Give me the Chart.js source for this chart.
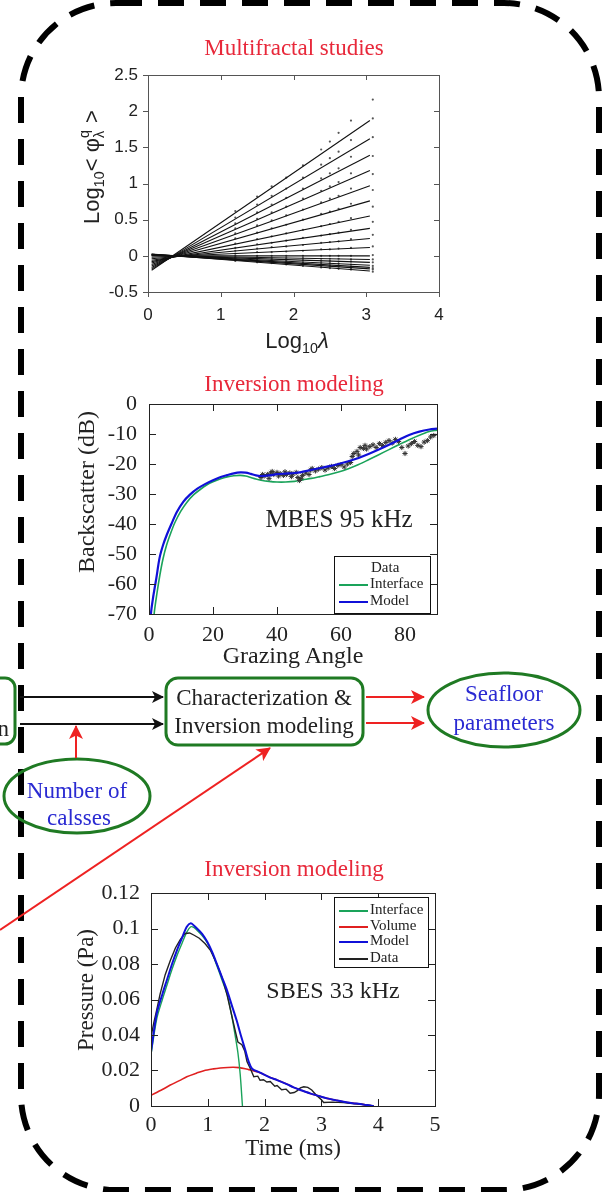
<!DOCTYPE html>
<html>
<head>
<meta charset="utf-8">
<script src="https://cdn.jsdelivr.net/npm/chart.js@4.4.1/dist/chart.umd.min.js"></script>
<style>
  html, body { margin: 0; padding: 0; background: #fff; }
  #page { position: relative; width: 604px; height: 1192px; overflow: hidden; }
  canvas.plot { position: absolute; left: 0; }
  .txt { position: absolute; white-space: nowrap; transform: translate(-50%, -50%); line-height: 1; color: #222; }
  .rot { transform: translate(-50%, -50%) rotate(-90deg); }
  .serif { font-family: "Liberation Serif", "Times New Roman", serif; }
  .sans { font-family: "Liberation Sans", Arial, sans-serif; }
  .red { color: #e8283a; }
  .legend { position: absolute; border: 1.5px solid #111; background: #fff; font-family: "Liberation Serif", serif; font-size: 15px; color: #222; }
  .legend div { position: absolute; left: 4px; height: 16px; line-height: 16px; white-space: nowrap; }
  .legend span { display: inline-block; width: 29px; height: 0; border-top: 2px solid transparent; vertical-align: middle; margin-right: 2px; }
  svg { position: absolute; left: 0; top: 0; }
  sub, sup { font-size: 65%; line-height: 0; }
</style>
</head>
<body>
<div id="page">
  <canvas class="plot" id="mfChart" width="604" height="350" style="top:0"></canvas>
  <canvas class="plot" id="mbesChart" width="604" height="320" style="top:360px"></canvas>
  <canvas class="plot" id="sbesChart" width="604" height="320" style="top:840px"></canvas>

  <svg width="604" height="1192" viewBox="0 0 604 1192">
    <defs>
      <marker id="headK" markerUnits="userSpaceOnUse" markerWidth="12" markerHeight="12" refX="11" refY="6" orient="auto">
        <path d="M0,0 L12,6 L0,12 L3,6 z" fill="#111"/>
      </marker>
      <marker id="headR" markerUnits="userSpaceOnUse" markerWidth="14" markerHeight="14" refX="13" refY="7" orient="auto">
        <path d="M0,0 L14,7 L0,14 L3.5,7 z" fill="#ee2222"/>
      </marker>
    </defs>
    <rect x="21" y="3" width="578" height="1187" rx="95" ry="95" fill="none" stroke="#000" stroke-width="6" stroke-dasharray="26 16"/>

    <g fill="none" stroke="#1f7a23" stroke-width="3">
      <rect x="-60" y="678" width="75" height="66" rx="10"/>
      <rect x="166" y="678" width="197" height="67" rx="12"/>
      <ellipse cx="77" cy="796" rx="73" ry="37"/>
      <ellipse cx="504" cy="710" rx="76" ry="37"/>
    </g>
    <g stroke="#111" stroke-width="2">
      <line x1="20" y1="697" x2="163" y2="697" marker-end="url(#headK)"/>
      <line x1="20" y1="724" x2="163" y2="724" marker-end="url(#headK)"/>
    </g>
    <g stroke="#ee2222" stroke-width="2">
      <line x1="76" y1="758" x2="76" y2="726" marker-end="url(#headR)"/>
      <line x1="366" y1="697" x2="424" y2="697" marker-end="url(#headR)"/>
      <line x1="366" y1="723" x2="424" y2="723" marker-end="url(#headR)"/>
      <line x1="0" y1="930" x2="270" y2="748" marker-end="url(#headR)"/>
    </g>

    <g font-family="Liberation Serif, Times New Roman, serif" text-anchor="middle" dominant-baseline="central">
      <text x="9" y="728" font-size="23" fill="#222" text-anchor="end">n</text>
      <text x="264" y="697" font-size="23" fill="#222">Characterization &amp;</text>
      <text x="264" y="725" font-size="23" fill="#222">Inversion modeling</text>
      <text x="504" y="693" font-size="23" fill="#2a2ad2">Seafloor</text>
      <text x="504" y="722" font-size="23" fill="#2a2ad2">parameters</text>
      <text x="77" y="790" font-size="23" fill="#2a2ad2">Number of</text>
      <text x="79" y="817" font-size="23" fill="#2a2ad2">calsses</text>
    </g>
  </svg>

  <div class="txt serif red" style="left:294px; top:47px; font-size:23px">Multifractal studies</div>
  <div class="txt sans rot" style="left:92px; top:167px; font-size:22px">Log<sub>10</sub>&lt; &phi;<sup style="position:relative; top:-2px">q</sup><sub style="position:relative; left:-8px">&lambda;</sub>&gt;</div>
  <div class="txt sans" style="left:297px; top:341px; font-size:22px">Log<sub>10</sub><i>&lambda;</i></div>

  <div class="txt serif red" style="left:294px; top:383px; font-size:23px">Inversion modeling</div>
  <div class="txt serif rot" style="left:86px; top:492px; font-size:24px">Backscatter (dB)</div>
  <div class="txt serif" style="left:293px; top:655px; font-size:24px">Grazing Angle</div>
  <div class="txt serif" style="left:339px; top:518px; font-size:25px">MBES 95 kHz</div>
  <div class="legend" style="left:334px; top:556px; width:95px; height:56px">
    <div style="top:2px; left:36px">Data</div>
    <div style="top:18px"><span style="border-top-color:#1aa35a"></span>Interface</div>
    <div style="top:35px"><span style="border-top-color:#1010d8"></span>Model</div>
  </div>

  <div class="txt serif red" style="left:294px; top:868px; font-size:23px">Inversion modeling</div>
  <div class="txt serif rot" style="left:85px; top:990px; font-size:23px">Pressure (Pa)</div>
  <div class="txt serif" style="left:293px; top:1147px; font-size:23px">Time (ms)</div>
  <div class="txt serif" style="left:333px; top:990px; font-size:24px">SBES 33 kHz</div>
  <div class="legend" style="left:334px; top:897px; width:93px; height:69px">
    <div style="top:3px"><span style="border-top-color:#1aa35a"></span>Interface</div>
    <div style="top:19px"><span style="border-top-color:#e02020"></span>Volume</div>
    <div style="top:34px"><span style="border-top-color:#1010d8"></span>Model</div>
    <div style="top:51px"><span style="border-top-color:#222"></span>Data</div>
  </div>
</div>

<script>
Chart.defaults.animation = false;
Chart.defaults.plugins.legend.display = false;
Chart.defaults.plugins.tooltip.enabled = false;

// ---- multifractal moment scaling ----
const mfXTicks = [0, 1, 2, 3, 4];
const mfYTicks = [-0.5, 0, 0.5, 1, 1.5, 2, 2.5];
const mfLineX = [0.05, 3.05];
const mfLineStart = [-0.2, -0.18, -0.16, -0.14, -0.12, -0.1, -0.08, -0.06, -0.04, -0.02, 0, 0.005, 0.01, 0.015, 0.02, 0.02, 0.025];
const mfLineEnd = [1.87, 1.62, 1.39, 1.18, 0.97, 0.76, 0.55, 0.38, 0.24, 0.115, 0, -0.05, -0.09, -0.13, -0.16, -0.18, -0.21];
const mfDotX = [1.2, 1.5, 1.7, 1.9, 2.13, 2.38, 2.5, 2.62, 2.79, 3.09];
const mfDotRows = [
    [0.62, 0.82, 0.96, 1.08, 1.25, 1.47, 1.58, 1.70, 1.87, 2.16],
    [0.53, 0.71, 0.83, 0.93, 1.08, 1.26, 1.35, 1.44, 1.60, 1.90],
    [0.45, 0.60, 0.71, 0.80, 0.93, 1.07, 1.14, 1.21, 1.37, 1.64],
    [0.38, 0.51, 0.60, 0.68, 0.79, 0.90, 0.96, 1.02, 1.14, 1.38],
    [0.31, 0.42, 0.49, 0.56, 0.64, 0.74, 0.79, 0.83, 0.93, 1.13],
    [0.24, 0.32, 0.38, 0.43, 0.50, 0.58, 0.61, 0.65, 0.72, 0.91],
    [0.17, 0.23, 0.27, 0.31, 0.36, 0.41, 0.44, 0.47, 0.52, 0.68],
    [0.11, 0.16, 0.18, 0.21, 0.25, 0.28, 0.30, 0.32, 0.36, 0.47],
    [0.07, 0.10, 0.12, 0.13, 0.15, 0.18, 0.19, 0.20, 0.23, 0.29],
    [0.03, 0.05, 0.05, 0.06, 0.07, 0.09, 0.09, 0.10, 0.11, 0.13],
    [0.00, 0.00, 0.00, 0.00, 0.00, 0.00, 0.00, 0.00, 0.00, 0.01],
    [-0.02, -0.02, -0.03, -0.03, -0.03, -0.04, -0.04, -0.04, -0.05, -0.05],
    [-0.03, -0.04, -0.05, -0.05, -0.06, -0.07, -0.07, -0.08, -0.08, -0.09],
    [-0.04, -0.06, -0.07, -0.07, -0.09, -0.10, -0.10, -0.11, -0.12, -0.14],
    [-0.05, -0.07, -0.08, -0.09, -0.10, -0.12, -0.13, -0.14, -0.15, -0.17],
    [-0.06, -0.08, -0.09, -0.10, -0.12, -0.14, -0.14, -0.15, -0.17, -0.19],
    [-0.07, -0.09, -0.10, -0.12, -0.14, -0.16, -0.17, -0.18, -0.19, -0.22],
];

// ---- MBES backscatter vs grazing angle ----
const mbesXTicks = [0, 20, 40, 60, 80];
const mbesYTicks = [-70, -60, -50, -40, -30, -20, -10, 0];
const modelAngle = [0.3, 0.6, 1.25, 2.3, 3.3, 4.4, 5.6, 7, 8.7, 10.7, 12.8, 15, 17.5, 20, 22.2, 24.4, 26.5, 28.6, 30.2, 31.8, 33.4, 35, 37.5, 40, 42.7, 45.5, 47.6, 49.7, 52.8, 56, 59.2, 62.3, 65.5, 68.6, 71.8, 75, 78.2, 81.3, 84.5, 87.6, 90];
const modelDb = [-78, -70, -64.7, -58, -51.3, -47, -43.5, -40, -36, -32.6, -30.2, -28.3, -26.7, -25.4, -24.4, -23.7, -23.1, -22.8, -22.9, -23.3, -23.8, -24, -23.8, -23.4, -23.2, -23, -22.7, -22.2, -21.5, -20.8, -20, -19.1, -18, -16.7, -15.2, -13.6, -11.9, -10.3, -9.2, -8.5, -8.2];
const ifaceAngle = [1.1, 1.6, 2.5, 3.4, 4.4, 5.5, 6.8, 8.1, 9.9, 11.8, 13.9, 16, 18, 20, 22.2, 24.4, 26.5, 28.6, 30.2, 31.8, 33.4, 35, 37.5, 40, 42.7, 45.5, 48, 50.7, 53.4, 56, 59.2, 62.3, 65.5, 68.6, 71.8, 75, 78.2, 81.3, 84.5, 87.6, 90];
const ifaceDb = [-78, -70, -63, -57, -51.5, -47, -43, -39.5, -35.8, -32.8, -30.3, -28.5, -27, -25.9, -25, -24.3, -23.9, -23.8, -24, -24.5, -25, -25.4, -25.8, -26, -26, -25.8, -25.3, -24.8, -24.2, -23.6, -22.7, -21.6, -20.2, -18.6, -16.9, -15.2, -13.5, -11.9, -10.4, -9.2, -8.7];
const obsAngle = [35, 35.5, 36, 37, 37.5, 38, 38.5, 39, 40, 40.5, 41, 42, 42.5, 43, 44, 44.5, 45, 46, 46.5, 47, 47.5, 48, 49, 50, 50.5, 51, 52, 53, 54, 55, 56, 57, 58, 59, 60, 61, 62, 63, 63.5, 64, 65, 65.5, 66, 67, 67.5, 68, 69, 70, 71, 72, 73, 74, 75, 76, 77, 78, 79, 80, 81, 82, 83, 84, 85, 86, 87, 88, 89];
const obsDb = [-24.5, -23.5, -24, -23.5, -24.8, -23, -22.5, -23.5, -22.8, -24, -23.2, -23.8, -22.6, -23.5, -23, -24.2, -23.3, -22.8, -24.5, -25.5, -24.8, -23.8, -23, -23.5, -22, -21.5, -22.3, -21.7, -21.2, -22, -21.3, -20.8, -21.5, -20.5, -20.2, -21, -20, -19.5, -17.5, -16.5, -15.8, -17, -14.5, -14.8, -13.8, -15, -14.2, -13.6, -14.5, -13.2, -13.8, -12.8, -12.2, -13, -11.8, -12.5, -14.5, -16.5, -14, -13.2, -12.5, -13.8, -14.2, -12.7, -12.2, -11, -10.5];

// ---- SBES echo envelope ----
const sbesXTicks = [0, 1, 2, 3, 4, 5];
const sbesYTicks = [0, 0.02, 0.04, 0.06, 0.08, 0.1, 0.12];
const echoT = [0, 0.05, 0.1, 0.16, 0.25, 0.34, 0.43, 0.52, 0.6, 0.68, 0.76, 0.85, 0.95, 1.05, 1.16, 1.26, 1.34, 1.4, 1.45, 1.5, 1.53, 1.6, 1.65, 1.69, 1.75, 1.81, 1.88, 1.92, 1.98, 2.04, 2.1, 2.18, 2.22, 2.3, 2.38, 2.45, 2.52, 2.57, 2.63, 2.69, 2.76, 2.83, 2.9, 2.95, 3.0, 3.04, 3.2, 3.39, 3.5, 3.68, 3.8, 3.92];
const echoP = [0.039, 0.047, 0.054, 0.063, 0.074, 0.082, 0.089, 0.094, 0.0972, 0.0975, 0.0962, 0.0945, 0.0915, 0.0875, 0.08, 0.0715, 0.0625, 0.054, 0.047, 0.04, 0.036, 0.0345, 0.031, 0.025, 0.021, 0.0165, 0.0168, 0.0145, 0.0148, 0.0135, 0.0138, 0.0112, 0.0115, 0.0092, 0.0095, 0.0072, 0.0076, 0.0085, 0.0102, 0.0108, 0.0105, 0.009, 0.0065, 0.005, 0.0035, 0.002, 0.0022, 0.0019, 0.0015, 0.0011, 0.0006, 0];
const sbesModelT = [0, 0.1, 0.2, 0.28, 0.37, 0.46, 0.55, 0.63, 0.7, 0.76, 0.81, 0.9, 0.99, 1.08, 1.16, 1.25, 1.34, 1.42, 1.51, 1.58, 1.66, 1.72, 1.78, 1.92, 2.1, 2.22, 2.4, 2.51, 2.65, 2.8, 2.95, 3.1, 3.25, 3.39, 3.55, 3.68, 3.8, 3.92];
const sbesModelP = [0.0305, 0.052, 0.063, 0.071, 0.08, 0.088, 0.095, 0.101, 0.103, 0.1015, 0.1, 0.097, 0.0925, 0.0865, 0.08, 0.0725, 0.065, 0.057, 0.048, 0.04, 0.0315, 0.025, 0.021, 0.0188, 0.016, 0.0146, 0.0122, 0.0105, 0.0088, 0.0071, 0.0057, 0.0043, 0.0033, 0.0024, 0.0016, 0.0011, 0.0005, 0];
const sbesIfaceT = [0, 0.1, 0.2, 0.28, 0.37, 0.46, 0.55, 0.63, 0.7, 0.76, 0.81, 0.9, 0.99, 1.08, 1.16, 1.25, 1.34, 1.42, 1.48, 1.53, 1.57, 1.61];
const sbesIfaceP = [0.029, 0.049, 0.06, 0.068, 0.077, 0.085, 0.092, 0.098, 0.101, 0.1005, 0.099, 0.096, 0.092, 0.086, 0.079, 0.071, 0.063, 0.051, 0.04, 0.03, 0.018, 0];
const sbesVolT = [0, 0.2, 0.34, 0.5, 0.63, 0.8, 0.93, 1.1, 1.22, 1.35, 1.45, 1.55, 1.66, 1.72, 1.78, 1.92, 2.1, 2.22, 2.4, 2.51, 2.65, 2.8, 2.95, 3.1, 3.25, 3.39, 3.55, 3.68, 3.8, 3.92];
const sbesVolP = [0.006, 0.0093, 0.0118, 0.0143, 0.0165, 0.0185, 0.0199, 0.0209, 0.0214, 0.0217, 0.0218, 0.0216, 0.021, 0.0205, 0.02, 0.0188, 0.016, 0.0146, 0.0122, 0.0105, 0.0088, 0.0071, 0.0057, 0.0043, 0.0033, 0.0024, 0.0016, 0.0011, 0.0005, 0];

function pts(xs, ys) {
    return xs.map((x, i) => ({ x: x, y: ys[i] }));
}

// box around the plot area plus short tick marks (positive = inward)
function makeFrame(cfg) {
    return {
        id: "frame",
        afterDatasetsDraw(chart) {
            const ctx = chart.ctx;
            const a = chart.chartArea;
            const sx = chart.scales.x;
            const sy = chart.scales.y;
            ctx.save();
            ctx.strokeStyle = cfg.color;
            ctx.lineWidth = 1;
            ctx.strokeRect(a.left + 0.5, a.top + 0.5, a.right - a.left, a.bottom - a.top);
            ctx.beginPath();
            cfg.xMarks.forEach((v) => {
                const px = Math.round(sx.getPixelForValue(v)) + 0.5;
                ctx.moveTo(px, a.bottom);
                ctx.lineTo(px, a.bottom - cfg.bottom);
                ctx.moveTo(px, a.top);
                ctx.lineTo(px, a.top + cfg.top);
            });
            cfg.yMarks.forEach((v) => {
                const py = Math.round(sy.getPixelForValue(v)) + 0.5;
                ctx.moveTo(a.left, py);
                ctx.lineTo(a.left + cfg.left, py);
                ctx.moveTo(a.right, py);
                ctx.lineTo(a.right - cfg.right, py);
            });
            ctx.stroke();
            ctx.restore();
        },
    };
}

function axis(min, max, ticks, font, pad, isX) {
    return {
        type: "linear",
        min: min,
        max: max,
        afterBuildTicks: (s) => {
            s.ticks = ticks.map((v) => ({ value: v }));
        },
        afterFit: (s) => {
            if (isX) s.height = 30;
            else s.width = 50;
        },
        grid: { display: false, drawTicks: false },
        border: { display: false },
        ticks: {
            font: font,
            color: "#222",
            padding: pad,
            autoSkip: false,
            maxRotation: 0,
            callback: (v) => String(v),
        },
    };
}

// multifractal panel
const mfSets = [];
for (let i = 0; i < mfLineStart.length; i++) {
    mfSets.push({
        data: [{ x: mfLineX[0], y: mfLineStart[i] }, { x: mfLineX[1], y: mfLineEnd[i] }],
        showLine: true,
        borderColor: "#111",
        borderWidth: 1.1,
        pointRadius: 0,
    });
}
for (let i = 0; i < mfDotRows.length; i++) {
    mfSets.push({
        data: pts(mfDotX, mfDotRows[i]),
        showLine: false,
        pointRadius: 1.1,
        backgroundColor: "#555",
        borderWidth: 0,
    });
}
const sansFont = { family: "Liberation Sans", size: 17 };
new Chart(document.getElementById("mfChart"), {
    type: "scatter",
    data: { datasets: mfSets },
    options: {
        responsive: false,
        layout: { padding: { left: 98, right: 165, top: 75, bottom: 28 } },
        scales: {
            x: axis(0, 4, mfXTicks, sansFont, 13, true),
            y: axis(-0.5, 2.5, mfYTicks, sansFont, 10, false),
        },
    },
    plugins: [makeFrame({ color: "#555", xMarks: mfXTicks, yMarks: mfYTicks, bottom: -5, top: 5, left: -5, right: 5 })],
});

// MBES panel
const serifFont = { family: "Liberation Serif", size: 22 };
new Chart(document.getElementById("mbesChart"), {
    type: "scatter",
    data: {
        datasets: [
            { data: pts(modelAngle, modelDb), showLine: true, borderColor: "#1010d8", borderWidth: 2.2, pointRadius: 0, tension: 0.3, order: 0 },
            { data: pts(ifaceAngle, ifaceDb), showLine: true, borderColor: "#1aa35a", borderWidth: 1.6, pointRadius: 0, tension: 0.3, order: 2 },
            { data: pts(obsAngle, obsDb), showLine: false, pointStyle: "star", pointRadius: 2.6, borderColor: "#333", borderWidth: 1, order: 1 },
        ],
    },
    options: {
        responsive: false,
        layout: { padding: { left: 99, right: 167, top: 44, bottom: 36 } },
        scales: {
            x: axis(0, 90, mbesXTicks, serifFont, 8, true),
            y: axis(-70, 0, mbesYTicks, serifFont, 12, false),
        },
    },
    plugins: [makeFrame({ color: "#222", xMarks: [20, 40, 60, 80], yMarks: [-60, -50, -40, -30, -20, -10], bottom: 7, top: 7, left: 7, right: 7 })],
});

// SBES panel
new Chart(document.getElementById("sbesChart"), {
    type: "scatter",
    data: {
        datasets: [
            { data: pts(sbesModelT, sbesModelP), showLine: true, borderColor: "#1010d8", borderWidth: 2, pointRadius: 0, tension: 0.3, order: 0 },
            { data: pts(echoT, echoP), showLine: true, borderColor: "#222", borderWidth: 1.4, pointRadius: 0, tension: 0, order: 1 },
            { data: pts(sbesIfaceT, sbesIfaceP), showLine: true, borderColor: "#1aa35a", borderWidth: 1.4, pointRadius: 0, tension: 0.3, order: 2 },
            { data: pts(sbesVolT, sbesVolP), showLine: true, borderColor: "#e02020", borderWidth: 1.6, pointRadius: 0, tension: 0.3, order: 3 },
        ],
    },
    options: {
        responsive: false,
        layout: { padding: { left: 101, right: 169, top: 53, bottom: 24 } },
        scales: {
            x: axis(0, 5, sbesXTicks, serifFont, 6, true),
            y: axis(0, 0.12, sbesYTicks, serifFont, 11, false),
        },
    },
    plugins: [makeFrame({ color: "#222", xMarks: [1, 2, 3, 4], yMarks: [0.02, 0.04, 0.06, 0.08, 0.1], bottom: 7, top: 7, left: 7, right: 7 })],
});
</script>
</body>
</html>
